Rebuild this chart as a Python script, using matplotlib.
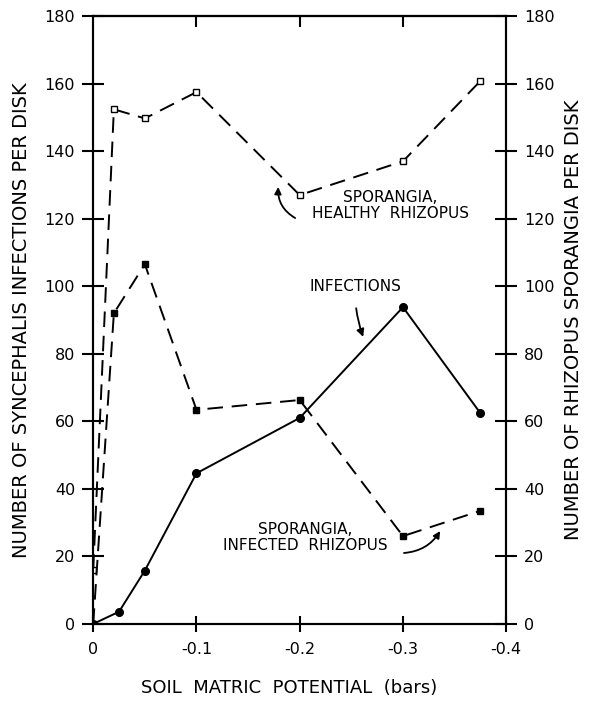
import numpy as np
import matplotlib
matplotlib.use('agg')
import matplotlib.pyplot as plt

# soil matric potential (bars)
x_inf = [0, -0.025, -0.05, -0.1, -0.2, -0.3, -0.375]
infections = [0, 3.6, 15.8, 44.6, 61, 93.8, 62.4]

x_spor = [0, -0.02, -0.05, -0.1, -0.2, -0.3, -0.375]
healthy = [16, 152.4, 149.7, 157.5, 127, 137, 160.8]
infected = [0, 92, 106.5, 63.4, 66.3, 26, 33.5]

xticks = [0, -0.1, -0.2, -0.3, -0.4]
xticklabels = ['0', '-0.1', '-0.2', '-0.3', '-0.4']
yticks = [0, 20, 40, 60, 80, 100, 120, 140, 160, 180]

plt.rcParams['font.family'] = ['DejaVu Sans']
fs = 11.5
lbl_fs = 14

fig = plt.figure(figsize=(5.9, 7.01), dpi=100)
ax = fig.add_axes([0.158, 0.110, 0.700, 0.867])
ax2 = ax.twinx()

dash = (0, (8, 4.5))
ax2.plot(x_spor, healthy, color='k', lw=1.4, linestyle=dash,
         marker='s', ms=4.5, mfc='white', mec='k', mew=1.0)
ax2.plot(x_spor, infected, color='k', lw=1.4, linestyle=dash,
         marker='s', ms=5, mfc='k', mec='k')
ax.plot(x_inf, infections, color='k', lw=1.4, marker='o', ms=5.5, mfc='k', mec='k')

for a in (ax, ax2):
    a.set_xlim(0, -0.4)
    a.set_ylim(0, 180)
    a.set_yticks(yticks)
    for s in a.spines.values():
        s.set_linewidth(1.5)

ax.set_xticks(xticks)
ax.set_xticklabels(xticklabels, fontsize=fs)
ax.set_yticks(yticks)
ax.set_yticklabels([str(v) for v in yticks], fontsize=fs)
ax2.set_yticklabels([str(v) for v in yticks], fontsize=fs)

ax.tick_params(axis='x', which='major', direction='inout', length=12, width=1.5,
               top=False, pad=7)
ax.tick_params(axis='y', which='major', direction='inout', length=16, width=1.5, pad=5)
ax2.tick_params(axis='y', which='major', direction='inout', length=16, width=1.5, pad=5)

# inward ticks on the top spine
top = ax.secondary_xaxis('top')
top.set_xticks([-0.1, -0.2, -0.3])
top.set_xticklabels([])
top.tick_params(direction='in', length=8, width=1.5)
top.spines['top'].set_linewidth(1.5)

ax.set_xlabel('SOIL  MATRIC  POTENTIAL  (bars)', fontsize=13)
ax.xaxis.set_label_coords(0.475, -0.09)
ax.set_ylabel('NUMBER OF SYNCEPHALIS INFECTIONS PER DISK', fontsize=lbl_fs)
ax.yaxis.set_label_coords(-0.15, 0.5)
ax2.set_ylabel('NUMBER OF RHIZOPUS SPORANGIA PER DISK', fontsize=lbl_fs,
               rotation=90)
ax2.yaxis.set_label_coords(1.14, 0.5)

# annotations
ax2.text(-0.2877, 124, 'SPORANGIA,\nHEALTHY  RHIZOPUS', fontsize=11,
         ha='center', va='center', multialignment='center', linespacing=1.1)
ax2.annotate('', xy=(-0.1792, 129.4), xytext=(-0.1956, 120.2),
             arrowprops=dict(arrowstyle='-|>', color='k', lw=1.3,
                             connectionstyle='arc3,rad=-0.3', shrinkA=0, shrinkB=0))
ax2.annotate('INFECTIONS', xy=(-0.2615, 85), xytext=(-0.2538, 99.8),
             fontsize=11, ha='center', va='center',
             arrowprops=dict(arrowstyle='-|>', color='k', lw=1.3,
                             connectionstyle='arc3,rad=0.1', shrinkA=8, shrinkB=0))
ax2.text(-0.2053, 25.6, 'SPORANGIA,\nINFECTED  RHIZOPUS', fontsize=11,
         ha='center', va='center', multialignment='center', linespacing=1.1)
ax2.annotate('', xy=(-0.336, 27.5), xytext=(-0.301, 21),
             arrowprops=dict(arrowstyle='-|>', color='k', lw=1.3,
                             connectionstyle='arc3,rad=0.25', shrinkA=0, shrinkB=0))

fig.savefig('out.png', dpi=100)
